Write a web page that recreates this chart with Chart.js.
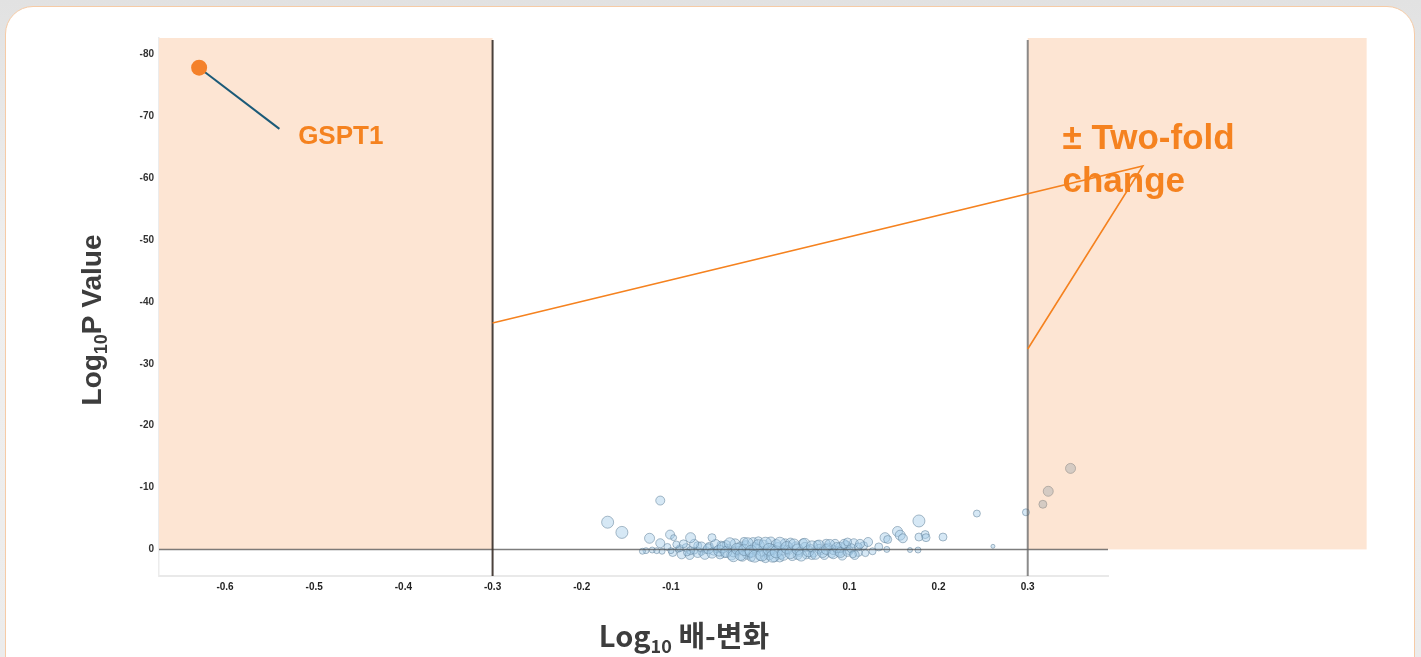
<!DOCTYPE html>
<html>
<head>
<meta charset="utf-8">
<script src="https://cdn.jsdelivr.net/npm/chart.js@4/dist/chart.umd.min.js"></script>
<style>
  html, body { margin: 0; padding: 0; }
  body { width: 1421px; height: 657px; overflow: hidden; background: linear-gradient(#e2e2e2, #efefef 40%, #ececec); position: relative; }
  #tarjeta { position: absolute; left: 5px; top: 6px; width: 1408px; height: 720px; background: #fff; border: 1.5px solid #f6cba6; border-radius: 28px; }
  #grafica { position: absolute; left: 0; top: 0; }
</style>
</head>
<body>
<div id="tarjeta"></div>
<canvas id="grafica" width="1421" height="657"></canvas>
<script>
// --- DATOS ---
const xTicks = [-0.6, -0.5, -0.4, -0.3, -0.2, -0.1, 0, 0.1, 0.2, 0.3];
const yTicks = [-80, -70, -60, -50, -40, -30, -20, -10, 0];

// genes sin cambio significativo (log10 fold change, log10 p, tamaño de burbuja)
const nsX = [
  -0.128, -0.121, -0.110, -0.104, -0.098, -0.092, -0.088, -0.083, -0.079, -0.074, -0.070, -0.066, -0.061, -0.057,
  -0.052, -0.048, -0.044, -0.040, -0.036, -0.032, -0.028, -0.024, -0.020, -0.016, -0.012, -0.008, -0.004, 0.000,
  0.004, 0.008, 0.012, 0.016, 0.020, 0.024, 0.028, 0.032, 0.036, 0.040, 0.044, 0.048, 0.052, 0.056, 0.060, 0.064,
  0.068, 0.072, 0.076, 0.080, 0.084, 0.088, 0.092, 0.096, 0.100, 0.105, 0.110, 0.116,
  -0.045, -0.038, -0.030, -0.022, -0.014, -0.006, 0.002, 0.010, 0.018, 0.026, 0.034, 0.042, 0.050, 0.058, 0.066,
  0.074, 0.082, 0.090, -0.002, 0.006, 0.014, 0.022, -0.010, -0.018,
  -0.070, -0.066, -0.062, -0.058, -0.054, -0.050, -0.046, -0.042, -0.038, -0.034, -0.030, -0.026, -0.022, -0.018,
  -0.014, -0.010, -0.006, -0.002, 0.002, 0.006, 0.010, 0.014, 0.018, 0.022, 0.026, 0.030, 0.034, 0.038, 0.042,
  0.046, 0.050, 0.054, 0.058, 0.062, 0.066, 0.070, 0.074, 0.078, 0.082, 0.086, 0.090, 0.094, 0.098, 0.102,
  0.106, 0.110, -0.078, -0.074, -0.082, -0.090, -0.100, -0.116, -0.132,
  -0.112, -0.124, -0.101, -0.097, -0.078, -0.054, -0.086, -0.112, -0.171, -0.155, -0.094,
  0.121, 0.126, 0.133, 0.142, 0.140, 0.143, 0.154, 0.157, 0.160, 0.168, 0.177, 0.178, 0.178, 0.185, 0.186,
  0.205, 0.243, 0.261, 0.298, 0.112, 0.118, 0.098, 0.104
];
const nsY = [
  0.2, 0.1, 0.3, -0.4, 0.5, 0.0, 0.8, -0.3, 0.9, 0.2, -0.6, 0.4, 0.1, -0.5,
  0.3, 0.0, -0.7, 0.6, -0.2, 0.9, -0.9, 0.2, 1.1, -0.6, 0.5, -1.1, 0.0, 1.0,
  -0.7, 0.4, -1.2, 1.2, -0.3, 0.7, -0.9, 0.1, 1.0, -0.5, 0.4, -1.0, 0.8, -0.2, 0.5, -0.8,
  0.2, 0.9, -0.4, 0.6, -0.9, 0.3, 1.0, -0.6, 0.2, -1.0, 0.5, -0.6,
  0.9, -0.8, 0.4, -0.4, 0.8, -0.3, 0.3, 0.9, -0.8, 0.1, -1.1, 0.9, -0.4, 1.0, -0.1,
  -1.0, 0.1, -0.3, -1.4, 1.5, 0.0, 1.4, 1.3, -1.3,
  0.5, -0.4, 0.8, -0.1, 0.6, -0.8, 0.2, -0.3, 0.4, -1.0, 1.1, -0.1, 0.9, 0.1,
  -1.0, 0.3, 1.1, -0.6, 0.9, -1.0, 0.0, 1.1, 0.4, -1.0, 0.8, -0.3, 0.6, -0.8, 0.0,
  1.0, -0.9, 0.3, -0.5, 0.8, -0.7, 0.5, 0.0, -0.8, 0.7, -0.3, 0.5, -0.9, 0.4, -0.2,
  0.9, -0.4, 0.2, -0.9, 0.5, -0.2, 0.2, 0.2, 0.3,
  -1.0, -1.8, -2.4, -1.9, -1.9, -1.9, -0.9, -7.9, -4.4, -2.75, -0.8,
  -1.2, 0.3, -0.4, 0.0, -1.9, -1.6, -2.9, -2.3, -1.8, 0.1, 0.1, -4.6, -2.0, -2.4, -1.9,
  -2.0, -5.8, -0.5, -6.0, -0.9, 0.6, -1.2, 0.8
];
const nsR = [
  3, 3, 3, 3.5, 4, 3, 4.5, 4, 4.5, 3.5, 4, 3.5, 3.5, 4,
  4, 3.5, 4, 4.5, 4, 5, 5, 4.5, 5, 5, 5, 5, 5, 5,
  5, 5, 5, 5, 5, 5, 5, 4.5, 5, 4.5, 4.5, 4.5, 4.5, 4, 4.5, 4,
  4, 4.5, 4, 4.5, 4.5, 5, 4.5, 5, 4, 4.5, 4, 4,
  4, 4, 5, 5, 5, 5, 5, 5, 5, 5, 4.5, 4.5, 4.5, 4, 4.5,
  4, 4.5, 5, 4, 4, 5, 4, 4, 4,
  5, 5, 5, 5, 5, 5, 5.5, 5.5, 5.5, 5.5, 5.5, 5.5, 5.5, 5.5,
  5.5, 6, 6, 6, 6, 6, 6, 6, 6, 6, 6, 6, 5.5, 5.5, 5.5,
  5.5, 5.5, 5.5, 5.5, 5, 5, 5, 5, 5, 5, 5, 5, 4.5, 4.5, 4.5,
  4.5, 4, 4, 4.5, 3.5, 3.5, 3, 3, 3,
  4.5, 5, 4.5, 3, 5, 4, 4, 4.5, 6, 6, 3.5,
  4.5, 3.5, 4, 3, 5, 4, 5, 5, 4.5, 2.5, 3, 6, 4, 4, 4,
  4, 3.5, 2, 3.5, 4.5, 3.5, 4, 3.5
];

// genes por encima del umbral de +2 veces
const sigX = [0.317, 0.323, 0.348];
const sigY = [-7.3, -9.4, -13.1];
const sigR = [4, 5, 5];

// GSPT1
const hitX = [-0.629];
const hitY = [-77.9];

// --- EJES Y ANOTACIONES ---
const X_MIN = -0.674, X_MAX = 0.39;
const Y_MIN = -82.7, Y_MAX = 4.3;
const UMBRAL = 0.3;          // log10(2)
const SOMBRA_DERECHA = 0.68; // el recuadro derecho pasa del final del eje
const NARANJA = '#f5821f';
const FUENTE = "'Liberation Sans', Arial, sans-serif";

const gsptLinea = { x: -0.539, y: -68.0 };
const gsptTexto = { x: -0.518, y: -65.6 };
const foldTexto = { x: 0.339, y1: -64.8, y2: -57.8 };
const foldPunta = { x: 0.429, y: -62.0 };
const foldIzq = { x: -UMBRAL, y: -36.6 };
const foldDer = { x: UMBRAL, y: -32.4 };

function burbujas(xs, ys, rs) {
  return xs.map((x, i) => ({ x: x, y: ys[i], r: rs ? rs[i] : 8 }));
}

// texto con subíndice: partes = [[texto, tamaño, bajada, fuente]]
function textoSub(ctx, partes, x, y, centrado) {
  let ancho = 0;
  partes.forEach(p => { ctx.font = 'bold ' + p[1] + 'px ' + p[3]; ancho += ctx.measureText(p[0]).width; });
  let cx = centrado ? x - ancho / 2 : x;
  ctx.textAlign = 'left';
  ctx.textBaseline = 'alphabetic';
  partes.forEach(p => {
    ctx.font = 'bold ' + p[1] + 'px ' + p[3];
    ctx.fillText(p[0], cx, y + p[2]);
    cx += ctx.measureText(p[0]).width;
  });
}

const anotaciones = {
  id: 'anotaciones',
  beforeDatasetsDraw(chart) {
    const { ctx, chartArea: a, scales: { x, y } } = chart;
    ctx.save();
    ctx.fillStyle = '#fde5d3';
    ctx.fillRect(a.left, a.top, x.getPixelForValue(-UMBRAL) - a.left, y.getPixelForValue(0) - a.top);
    ctx.fillRect(x.getPixelForValue(UMBRAL), a.top, x.getPixelForValue(SOMBRA_DERECHA) - x.getPixelForValue(UMBRAL), y.getPixelForValue(0) - a.top);

    // línea del GSPT1
    ctx.strokeStyle = '#1b5a78';
    ctx.lineWidth = 2;
    ctx.beginPath();
    ctx.moveTo(x.getPixelForValue(hitX[0]), y.getPixelForValue(hitY[0]));
    ctx.lineTo(x.getPixelForValue(gsptLinea.x), y.getPixelForValue(gsptLinea.y));
    ctx.stroke();
    ctx.restore();
  },
  afterDatasetsDraw(chart) {
    const { ctx, chartArea: a, scales: { x, y } } = chart;
    ctx.save();
    // línea del cero
    ctx.strokeStyle = 'rgba(70,70,70,0.7)';
    ctx.lineWidth = 1.5;
    ctx.beginPath();
    ctx.moveTo(a.left, y.getPixelForValue(0));
    ctx.lineTo(a.right, y.getPixelForValue(0));
    ctx.stroke();

    // umbrales
    ctx.lineWidth = 2;
    ctx.strokeStyle = 'rgba(55,45,40,0.9)';
    ctx.beginPath();
    ctx.moveTo(x.getPixelForValue(-UMBRAL), a.top + 2);
    ctx.lineTo(x.getPixelForValue(-UMBRAL), a.bottom);
    ctx.stroke();
    ctx.strokeStyle = 'rgba(100,100,100,0.75)';
    ctx.beginPath();
    ctx.moveTo(x.getPixelForValue(UMBRAL), a.top + 2);
    ctx.lineTo(x.getPixelForValue(UMBRAL), a.bottom);
    ctx.stroke();

    // textos naranja
    ctx.fillStyle = NARANJA;
    ctx.textAlign = 'left';
    ctx.textBaseline = 'alphabetic';
    ctx.font = 'bold 26px ' + FUENTE;
    ctx.fillText('GSPT1', x.getPixelForValue(gsptTexto.x), y.getPixelForValue(gsptTexto.y));
    ctx.font = 'bold 35px ' + FUENTE;
    ctx.fillText('± Two-fold', x.getPixelForValue(foldTexto.x), y.getPixelForValue(foldTexto.y1));
    ctx.fillText('change', x.getPixelForValue(foldTexto.x), y.getPixelForValue(foldTexto.y2));

    ctx.strokeStyle = NARANJA;
    ctx.lineWidth = 1.6;
    ctx.beginPath();
    ctx.moveTo(x.getPixelForValue(foldIzq.x), y.getPixelForValue(foldIzq.y));
    ctx.lineTo(x.getPixelForValue(foldPunta.x), y.getPixelForValue(foldPunta.y));
    ctx.lineTo(x.getPixelForValue(foldDer.x), y.getPixelForValue(foldDer.y));
    ctx.stroke();

    // títulos de los ejes
    ctx.fillStyle = '#3d3d3d';
    const latin = FUENTE;
    const kr = "'Noto Sans CJK KR', " + FUENTE;
    textoSub(ctx, [['Log', 29, 0, kr], ['10', 18, 6, kr], [' 배-변화', 29, 0, kr]], 684, 647, true);
    ctx.translate(101, (a.top + a.bottom) / 2 + 13);
    ctx.rotate(-Math.PI / 2);
    textoSub(ctx, [['Log', 28, 0, latin], ['10', 18, 6, latin], ['P Value', 28, 0, latin]], 0, 0, true);
    ctx.restore();
  }
};

new Chart(document.getElementById('grafica').getContext('2d'), {
  type: 'bubble',
  data: {
    datasets: [
      {
        data: burbujas(hitX, hitY),
        backgroundColor: '#f4812a',
        borderWidth: 0
      },
      {
        data: burbujas(nsX, nsY, nsR),
        backgroundColor: 'rgba(165,203,232,0.45)',
        borderColor: 'rgba(100,132,155,0.55)',
        borderWidth: 1
      },
      {
        data: burbujas(sigX, sigY, sigR),
        backgroundColor: 'rgba(180,182,182,0.55)',
        borderColor: 'rgba(150,145,140,0.6)',
        borderWidth: 1
      }
    ]
  },
  options: {
    responsive: false,
    animation: false,
    events: [],
    devicePixelRatio: 1,
    layout: { autoPadding: false, padding: { left: 119, right: 313, top: 38, bottom: 43 } },
    plugins: { legend: { display: false }, tooltip: { enabled: false } },
    scales: {
      x: {
        type: 'linear', min: X_MIN, max: X_MAX,
        grid: { display: false, drawTicks: false },
        border: { display: true, color: '#e9e9e9', width: 2 },
        afterBuildTicks: s => { s.ticks = xTicks.map(v => ({ value: v })); },
        afterFit: s => { s.height = 38; },
        ticks: { padding: 5, autoSkip: false, maxRotation: 0, color: '#222', font: { size: 10, weight: 'bold', family: FUENTE }, callback: v => String(v) }
      },
      y: {
        type: 'linear', reverse: true, min: Y_MIN, max: Y_MAX,
        grid: { display: false, drawTicks: false },
        border: { display: true, color: '#ececec', width: 1.5 },
        afterBuildTicks: s => { s.ticks = yTicks.map(v => ({ value: v })); },
        afterFit: s => { s.width = 40; },
        ticks: { padding: 5, autoSkip: false, color: '#333', font: { size: 10, weight: 'bold', family: FUENTE }, callback: v => String(v) }
      }
    }
  },
  plugins: [anotaciones]
});
</script>
</body>
</html>
